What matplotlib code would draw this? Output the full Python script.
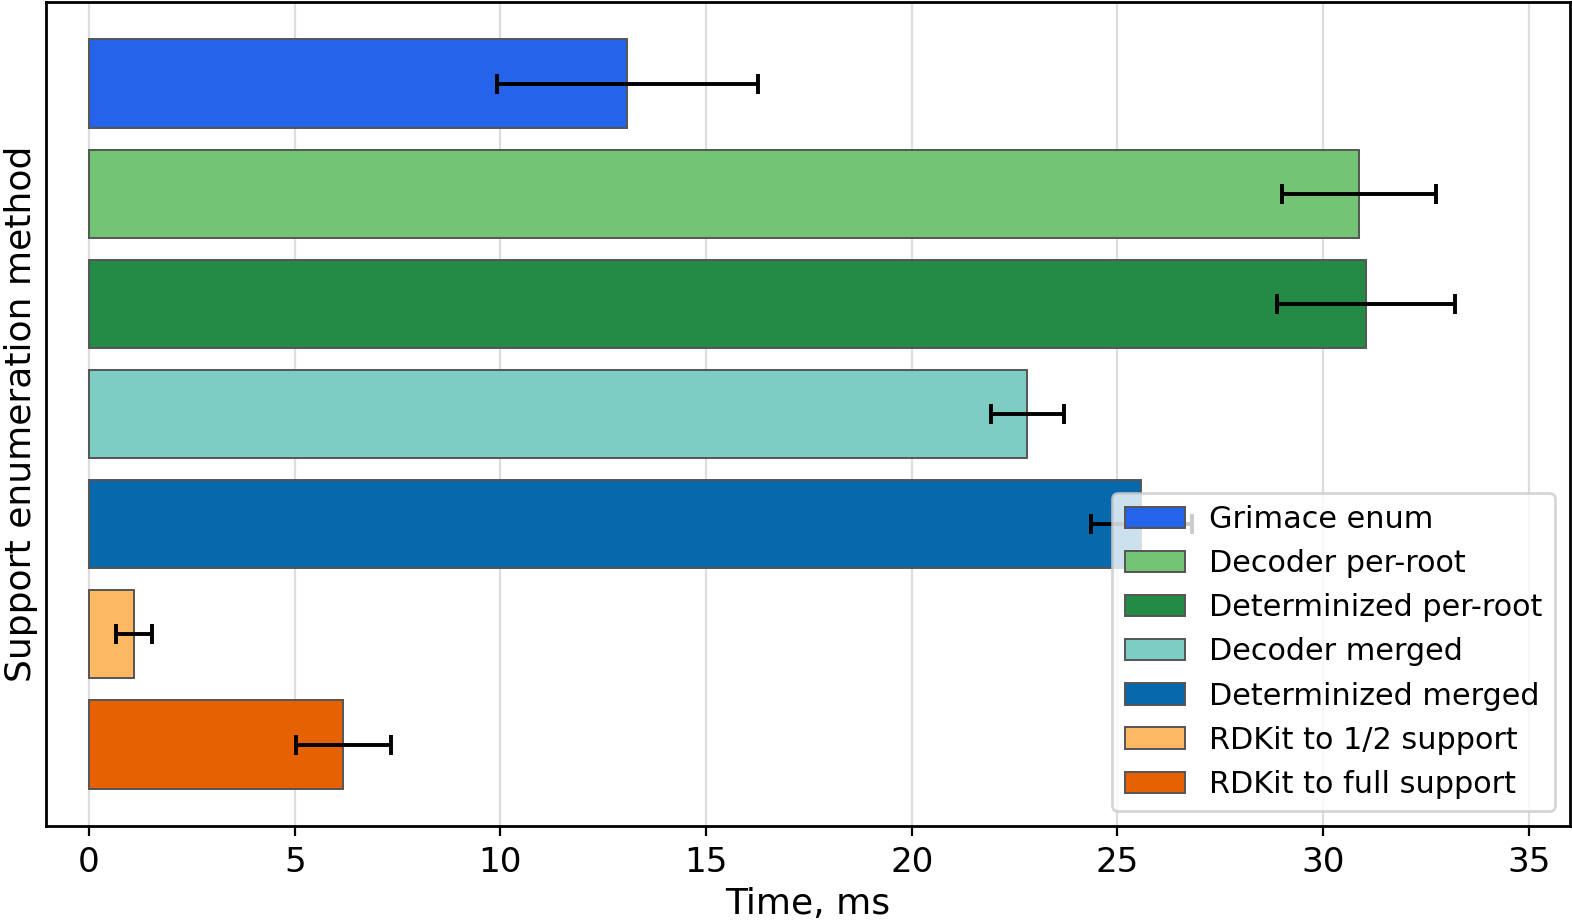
import numpy as np
import matplotlib.pyplot as plt

# Data (mean time and symmetric error, ms)
methods = ["Grimace enum", "Decoder per-root", "Determinized per-root",
           "Decoder merged", "Determinized merged",
           "RDKit to 1/2 support", "RDKit to full support"]
times = [13.08, 30.87, 31.04, 22.81, 25.58, 1.09, 6.18]
errors = [3.17, 1.87, 2.16, 0.89, 1.23, 0.43, 1.16]
colors = ["#2563EB", "#74C476", "#238B45", "#7ECDC4", "#0868AC", "#FDB863", "#E66101"]

plt.rcParams['font.size'] = 12.3

fig, ax = plt.subplots(figsize=(7.86, 4.62), dpi=200)
fig.subplots_adjust(left=0.0292, right=0.9987, top=0.9978, bottom=0.106)

for i in range(len(methods)):
    ax.barh(i, times[i], height=0.8, xerr=errors[i], color=colors[i],
            edgecolor="#555555", linewidth=0.7, label=methods[i],
            error_kw=dict(ecolor="black", elinewidth=1.4, capsize=3.6, capthick=1.4),
            zorder=2)

ax.invert_yaxis()
ax.set_yticks([])
ax.set_xlim(-1.05, 36.0)
ax.set_xticks(np.arange(0, 36, 5))
ax.grid(axis="x", color="#dddddd", linewidth=0.8, zorder=0)
ax.set_axisbelow(True)
for s in ax.spines.values():
    s.set_linewidth(1.0)

ax.set_xlabel("Time, ms", fontsize=13, labelpad=3)
ax.set_ylabel("Support enumeration method", fontsize=13, labelpad=3)
ax.legend(loc="lower right", fontsize=10.9)

fig.savefig("out.png", dpi=200)
